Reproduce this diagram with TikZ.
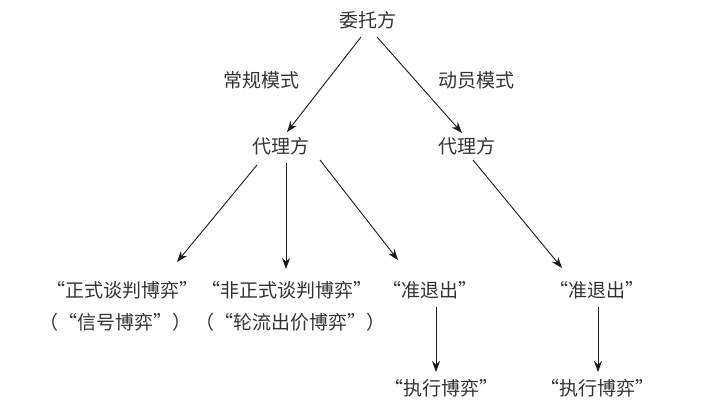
\documentclass[tikz,border=0pt]{standalone}
\usepackage{fontspec}
\newfontfamily\cjk{Noto Sans CJK SC}
\usetikzlibrary{arrows.meta}
\definecolor{txt}{HTML}{333333}
\definecolor{ln}{HTML}{1A1A1A}
\begin{document}
\begin{tikzpicture}[x=1pt,y=-1pt,
  lbl/.style={inner sep=0pt,text=txt,font=\cjk\fontsize{19}{23}\selectfont},
  arr/.style={draw=ln,line width=0.9pt,-{Stealth[length=11pt,width=8pt]}}]
\useasboundingbox[fill=white] (0,0) rectangle (723,413);
\node[lbl] (wt) at (368,20) {委托方};
\node[lbl] (mL) at (261,80) {常规模式};
\node[lbl] (mR) at (476,80) {动员模式};
\node[lbl] (dlL) at (281,146) {代理方};
\node[lbl] (dlR) at (467,146) {代理方};
\node[lbl] (zs) at (122,290) {“正式谈判博弈”};
\node[lbl] (xh) at (115,322) {（“信号博弈”）};
\node[lbl] (fzs) at (287,290) {“非正式谈判博弈”};
\node[lbl] (lc) at (290,322) {（“轮流出价博弈”）};
\node[lbl] (zt1) at (430,290) {“准退出”};
\node[lbl] (zt2) at (597,290) {“准退出”};
\node[lbl] (zx1) at (441,388) {“执行博弈”};
\node[lbl] (zx2) at (597,388) {“执行博弈”};
\draw[arr] ([shift={(-7,17)}]wt.center) -- ([shift={(6,-14)}]dlL.center);
\draw[arr] ([shift={(9,17)}]wt.center) -- ([shift={(-5,-13)}]dlR.center);
\draw[arr] ([shift={(-24,19)}]dlL.center) -- ([shift={(55,-28)}]zs.center);
\draw[arr] ([shift={(5,17)}]dlL.center) -- ([shift={(-1,-21)}]fzs.center);
\draw[arr] ([shift={(39,14)}]dlL.center) -- ([shift={(-32,-30)}]zt1.center);
\draw[arr] ([shift={(6,14)}]dlR.center) -- ([shift={(-35,-22)}]zt2.center);
\draw[arr] ([shift={(6,17)}]zt1.center) -- ([shift={(-5,-16)}]zx1.center);
\draw[arr] ([shift={(1,17)}]zt2.center) -- ([shift={(1,-16)}]zx2.center);
\end{tikzpicture}
\end{document}
